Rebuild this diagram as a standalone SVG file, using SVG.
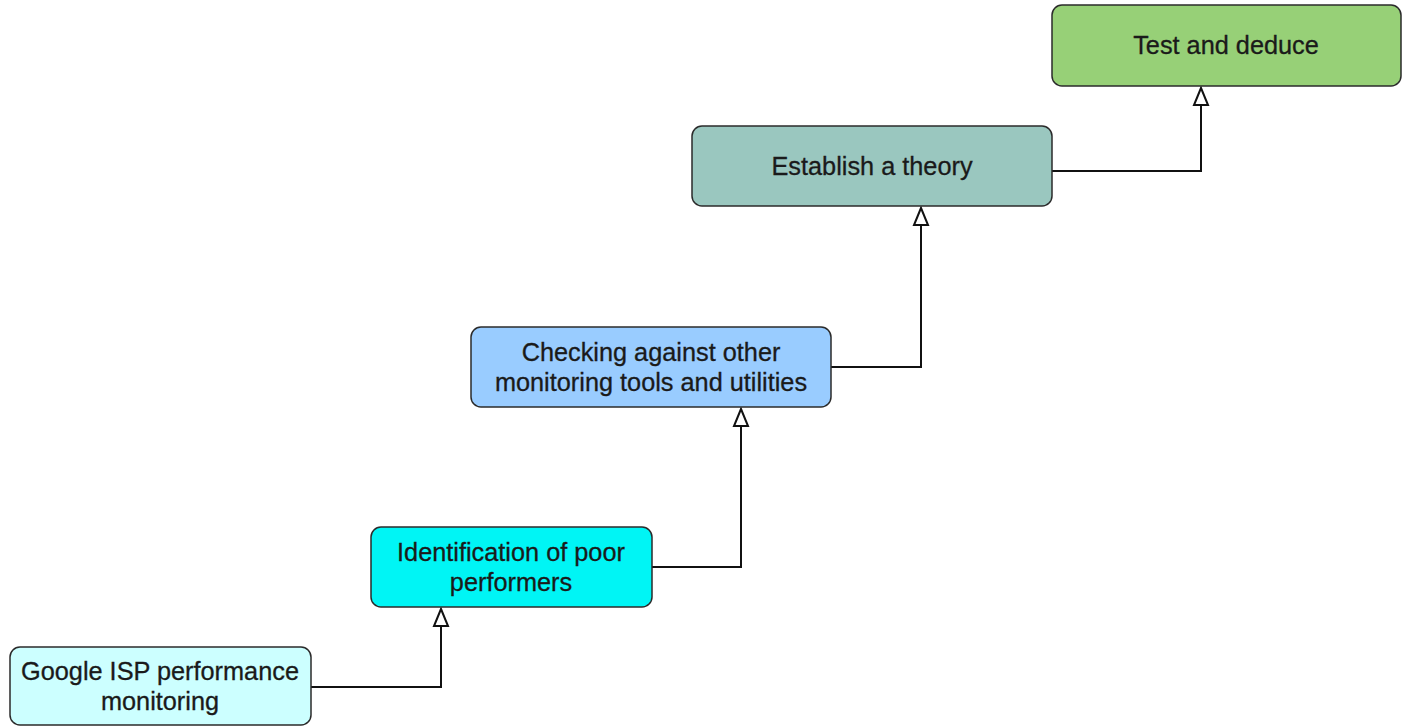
<svg xmlns="http://www.w3.org/2000/svg" width="1404" height="727" viewBox="0 0 1404 727">
<defs>
<style>
.box{stroke:#2b2b2b;stroke-width:1.5}
.lbl{font-family:"Liberation Sans",Arial,sans-serif;font-size:25.3px;fill:#1a1a1a;stroke:#1a1a1a;stroke-width:0.3;text-anchor:middle}
.edge{fill:none;stroke:#111;stroke-width:2}
</style>
<marker id="tri" markerUnits="userSpaceOnUse" markerWidth="22" markerHeight="20" viewBox="0 0 22 20" refX="19" refY="10" orient="auto">
<path d="M19,10 L2,3 L2,17 Z" fill="#fff" stroke="#111" stroke-width="2" stroke-linejoin="miter"/>
</marker>
</defs>
<rect width="1404" height="727" fill="#fff"/>
<g id="connectors">
<path class="edge" d="M311,687 H441 V609" marker-end="url(#tri)"/>
<path class="edge" d="M652,567 H741 V409" marker-end="url(#tri)"/>
<path class="edge" d="M831,367 H921 V208" marker-end="url(#tri)"/>
<path class="edge" d="M1052,171 H1201 V88" marker-end="url(#tri)"/>
</g>
<g id="n1">
<rect class="box" x="10" y="647" width="301" height="78" rx="10" fill="#ccffff"/>
<text class="lbl" x="160" y="680">Google ISP performance</text>
<text class="lbl" x="160" y="710">monitoring</text>
</g>
<g id="n2">
<rect class="box" x="371" y="527" width="281" height="80" rx="10" fill="#00f5f5"/>
<text class="lbl" x="511" y="561">Identification of poor</text>
<text class="lbl" x="511" y="591">performers</text>
</g>
<g id="n3">
<rect class="box" x="471" y="327" width="360" height="80" rx="10" fill="#99ccff"/>
<text class="lbl" x="651" y="361">Checking against other</text>
<text class="lbl" x="651" y="391">monitoring tools and utilities</text>
</g>
<g id="n4">
<rect class="box" x="692" y="126" width="360" height="80" rx="10" fill="#9ac7bf"/>
<text class="lbl" x="872" y="175">Establish a theory</text>
</g>
<g id="n5">
<rect class="box" x="1052" y="5" width="349" height="81" rx="10" fill="#97d077"/>
<text class="lbl" x="1226" y="54">Test and deduce</text>
</g>
</svg>
